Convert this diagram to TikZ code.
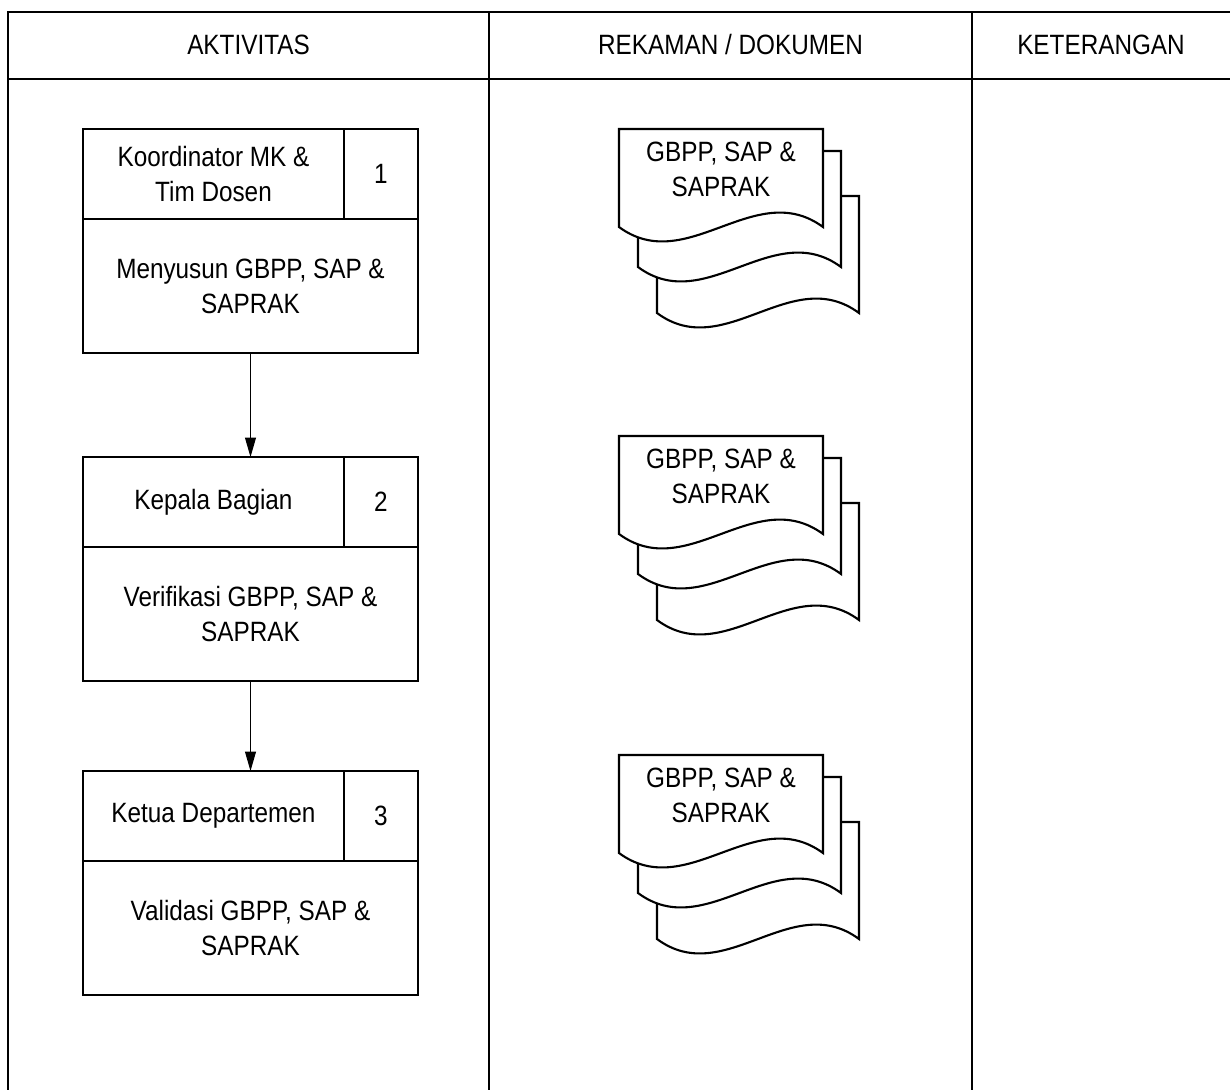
\documentclass[tikz,border=0pt]{standalone}
\usepackage{fontspec}
\setmainfont{Liberation Sans}[FakeStretch=0.87]
\usetikzlibrary{positioning, arrows.meta}

\begin{document}
\begin{tikzpicture}[>={Triangle[length=11pt,width=6.2pt]},
         font=\fontsize{15.9}{20}\selectfont,
         rule/.style={line width=1.5pt},
         cell/.style={
         % The shape:
         rectangle, outer sep=0pt,
         % The border
         draw=black, line width=1.5pt,
         % Text
         align=center, inner sep=2pt},
         actor/.style={cell, minimum width=5.22cm, minimum height=1.8cm},
         num/.style={cell, minimum width=1.48cm, minimum height=1.8cm},
         task/.style={cell, minimum width=6.7cm, minimum height=2.68cm},
         page/.style={fill=white, draw=black, line width=1.2pt}]
   \useasboundingbox (0,0) rectangle (24.6,-21.78);
   % table frame
   \draw[rule] (0.16,-22) -- (0.16,-0.24) -- (24.7,-0.24);
   \draw[rule] (0.16,-1.58) -- (24.7,-1.58);
   \draw[rule] (9.78,-0.24) -- (9.78,-22);
   \draw[rule] (19.44,-0.24) -- (19.44,-22);
   \node (colAkt) at (4.97,-0.9) {AKTIVITAS};
   \node (colRek) at (14.61,-0.9) {REKAMAN / DOKUMEN};
   \node (colKet) at (22.02,-0.9) {KETERANGAN};
   % activity boxes
   \foreach \n/\top/\who/\what in {1/-2.58/{Koordinator MK \&\\Tim Dosen}/{Menyusun GBPP, SAP \&\\SAPRAK},
                                  2/-9.14/{Kepala Bagian}/{Verifikasi GBPP, SAP \&\\SAPRAK},
                                  3/-15.42/{Ketua Departemen}/{Validasi GBPP, SAP \&\\SAPRAK}} {
      \node[actor, anchor=north west] (actor\n) at (1.66,\top) {\who};
      \node[num, right=0pt of actor\n] (num\n) {\n};
      \node[task, below=0pt of actor\n.south west, anchor=north west] (task\n) {\what};
   };
   \draw[->, line width=0.6pt] (task1.south) -- (task1.south |- actor2.north);
   \draw[->, line width=0.6pt] (task2.south) -- (task2.south |- actor3.north);
   % stacked documents
   \foreach \n/\top in {1/-2.58, 2/-8.72, 3/-15.10} {
      \begin{scope}[shift={(12.38,\top)}]
         \draw[page] (0.76,-1.34) -- (4.80,-1.34) -- (4.80,-3.68)
            .. controls (3.45,-2.68) and (2.11,-4.68) .. (0.76,-3.68) -- cycle;
         \draw[page] (0.38,-0.44) -- (4.44,-0.44) -- (4.44,-2.76)
            .. controls (3.09,-1.76) and (1.73,-3.76) .. (0.38,-2.76) -- cycle;
         \draw[page] (0,0) -- (4.08,0) -- (4.08,-1.96)
            .. controls (2.72,-0.96) and (1.36,-2.96) .. (0,-1.96) -- cycle;
         \node[align=center] (doc\n) at (2.04,-0.8) {GBPP, SAP \&\\SAPRAK};
      \end{scope}
   };
\end{tikzpicture}
\end{document}
